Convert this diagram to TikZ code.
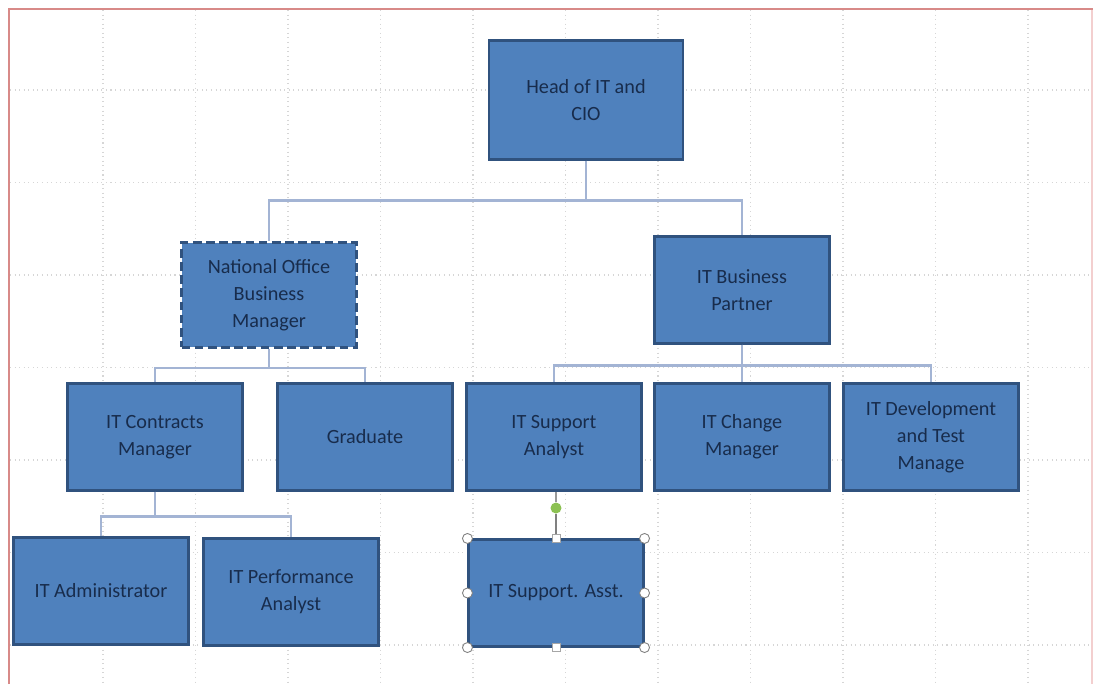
\documentclass[tikz,border=0pt]{standalone}
\usepackage{fontspec}
\setmainfont{Carlito}
\usepackage{xcolor}
\usepackage{tikz}
\definecolor{boxfill}{HTML}{4F81BD}
\definecolor{boxline}{HTML}{30527E}
\definecolor{boxtext}{HTML}{182C4C}
\definecolor{linkcol}{HTML}{A3B4D4}
\definecolor{gridcol}{HTML}{D6D6D6}
\definecolor{framecol}{HTML}{D88A88}
\definecolor{framelight}{HTML}{F3CFCF}
\definecolor{handlecol}{HTML}{8CC152}

\tikzset{
	role/.style={draw=boxline, line width=1.2pt, fill=boxfill, text=boxtext,
		minimum width=3.5cm, minimum height=2.14cm, align=center,
		font=\fontsize{11.5}{15.5}\selectfont, inner sep=2pt},
	dashedrole/.style={role, dash pattern=on 5pt off 2.5pt, line width=1.9pt},
	link/.style={draw=linkcol, line width=1.3pt},
	gridline/.style={draw=gridcol, dotted, line width=0.6pt},
	selcorner/.style={circle, draw=gray, fill=white, line width=0.5pt, minimum size=0.2cm, inner sep=0pt},
	selside/.style={rectangle, draw=gray!70, fill=white, line width=0.4pt, minimum size=0.16cm, inner sep=0pt},
}

\begin{document}
\begin{tikzpicture}[x=0.02cm, y=-0.02cm]
		\useasboundingbox (0,0) rectangle (1096,684);

		% grid of the page
		\foreach \gx in {103,195.5,...,1030}
			\draw[gridline] (\gx,10) -- (\gx,682);
		\foreach \gy in {90,182.5,...,650}
			\draw[gridline] (10,\gy) -- (1091,\gy);

		% page frame
		\draw[framelight, line width=1.2pt] (1092,9) -- (1092,684);
		\draw[framecol, line width=1.6pt] (9,684) -- (9,9) -- (1093,9);

		% top
		\node[role, minimum height=2.38cm, minimum width=3.88cm] (head) at ( 586, 100) {Head of IT and\\CIO};

		% second row
		\node[dashedrole, minimum height=2.1cm] (nobm) at ( 269, 295) {National Office\\Business\\Manager};
		\node[role]                             (itbp) at ( 742, 290) {IT Business\\Partner};

		% third row
		\node[role] (itcm)   at ( 155, 437) {IT Contracts\\Manager};
		\node[role] (grad)   at ( 365, 437) {Graduate};
		\node[role] (itsa)   at ( 554, 437) {IT Support\\Analyst};
		\node[role] (itchm)  at ( 742, 437) {IT Change\\Manager};
		\node[role] (itdtm)  at ( 931, 437) {IT Development\\and Test\\Manage};

		% fourth row
		\node[role] (itadm)  at ( 101, 591) {IT Administrator};
		\node[role] (itpa)   at ( 291, 592) {IT Performance\\Analyst};
		\node[role] (itsasst) at ( 556, 593) {IT Support. Asst.};

		% connectors
		\draw[link] (head.south) -- ++(0,40) -| (nobm.north);
		\draw[link] (head.south) -- ++(0,40) -| (itbp.north);

		\draw[link] (nobm.south) -- ++(0,19) -| (itcm.north);
		\draw[link] (nobm.south) -- ++(0,19) -| (grad.north);

		\draw[link] (itbp.south) -- ++(0,21) -| (itsa.north);
		\draw[link] (itbp.south) -- ++(0,21) -| (itchm.north);
		\draw[link] (itbp.south) -- ++(0,21) -| (itdtm.north);

		\draw[link] (itcm.south) -- ++(0,25) -| (itadm.north);
		\draw[link] (itcm.south) -- ++(0,25) -| (itpa.north);

		% selected shape with its handles
		\node[circle, fill=handlecol, inner sep=0pt, minimum size=0.22cm] (rot) at (556,508) {};
		\draw[gray!80, line width=0.8pt] (rot) -- (rot |- itsa.south);
		\draw[gray, line width=0.8pt] (rot) -- (itsasst.north);
		\node[selcorner] (hnw) at (itsasst.north west) {};
		\node[selcorner] (hne) at (itsasst.north east) {};
		\node[selcorner] (hsw) at (itsasst.south west) {};
		\node[selcorner] (hse) at (itsasst.south east) {};
		\node[selcorner] (hw)  at (itsasst.west) {};
		\node[selcorner] (he)  at (itsasst.east) {};
		\node[selside]   (hn)  at (itsasst.north) {};
		\node[selside]   (hs)  at (itsasst.south) {};
	\end{tikzpicture}
\end{document}
